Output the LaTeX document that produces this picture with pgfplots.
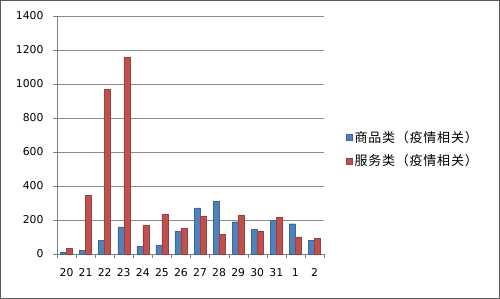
\documentclass[border=0pt]{standalone}
\usepackage{pgfplots}
\pgfplotsset{compat=1.18}
\usepackage{fontspec}
\setmainfont{DejaVu Sans}
\newfontfamily\cjk[LetterSpace=6]{Noto Sans CJK SC}
\definecolor{xlblue}{HTML}{4F81BD}
\definecolor{xlred}{HTML}{C0504D}
\begin{document}
\begin{tikzpicture}
\useasboundingbox (-57bp,-45bp) rectangle (443bp,254bp);
\draw[black!65, line width=1bp] (-56.5bp,-44.5bp) rectangle (442.5bp,253.5bp);
\begin{axis}[
  at={(0,0)}, anchor=south west,
  scale only axis, width=267bp, height=238bp,
  ybar=0pt, bar width=6bp,
  xmin=-0.5, xmax=13.5, ymin=0, ymax=1400,
  xtick={0,...,13},
  xticklabels={20,21,22,23,24,25,26,27,28,29,30,31,1,2},
  minor xtick={-0.5,0.5,...,13.5},
  major x tick style={draw=none},
  minor tick length=4bp,
  ytick={0,200,...,1400},
  major tick length=4bp,
  tick align=outside,
  tick style={black!50},
  ymajorgrids, grid style={black!45},
  axis x line*=bottom, axis y line*=left,
  axis line style={black!50},
  x axis line style={-}, y axis line style={-},
  xticklabel style={font=\fontsize{10.8bp}{12bp}\selectfont, yshift=-7bp},
  yticklabel style={font=\fontsize{10.8bp}{12bp}\selectfont, xshift=-6bp},
  /pgf/number format/assume math mode=true,
  /pgf/number format/1000 sep={},
  legend style={at={(1,0.44)}, anchor=west, xshift=19bp, draw=none, fill=none,
    font=\cjk\fontsize{13bp}{15bp}\selectfont, row sep=7bp},
  legend image code/.code={\fill[#1] (0bp,-3bp) rectangle (6bp,3bp);},
  legend cell align=left,
]
\addplot[fill=xlblue, draw=xlblue!80!black] coordinates {
(0,10) (1,20) (2,82) (3,160) (4,46) (5,51) (6,135)
(7,271) (8,311) (9,190) (10,147) (11,198) (12,178) (13,81)};
\addplot[fill=xlred, draw=xlred!80!black] coordinates {
(0,32) (1,343) (2,970) (3,1155) (4,170) (5,232) (6,152)
(7,224) (8,117) (9,228) (10,133) (11,216) (12,101) (13,93)};
\legend{商品类（疫情相关）,服务类（疫情相关）}
\end{axis}
\end{tikzpicture}
\end{document}
